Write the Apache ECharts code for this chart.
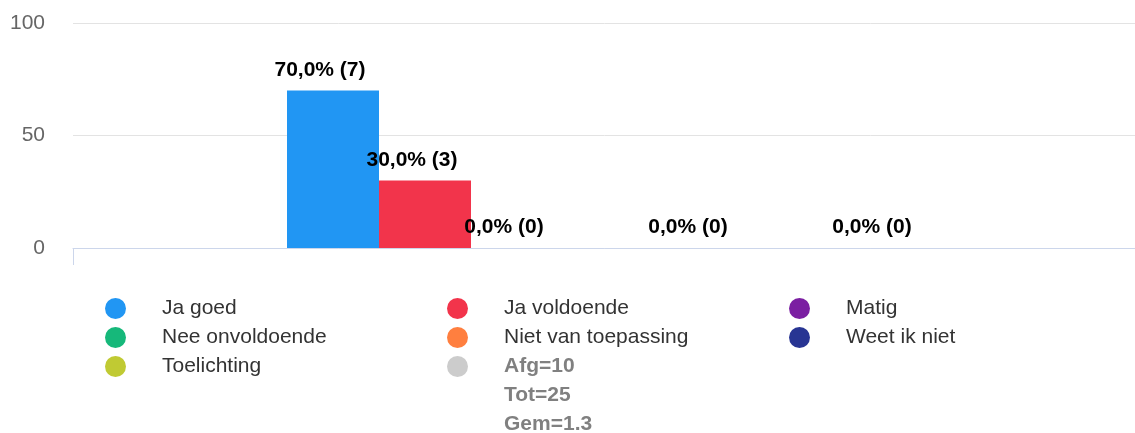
<!DOCTYPE html>
<html>
<head>
<meta charset="utf-8">
<script src="https://cdn.jsdelivr.net/npm/echarts@6/dist/echarts.min.js"></script>
<style>
  html, body { margin: 0; padding: 0; background: #fff; }
  #chart { width: 1135px; height: 433px; }
</style>
</head>
<body>
<div id="chart"></div>
<script>
const categories = ['']
const seriesNames = ['Ja goed', 'Ja voldoende', 'Matig', 'Nee onvoldoende', 'Niet van toepassing', 'Weet ik niet', 'Toelichting']
const percentages = [70, 30, 0, 0, 0, 0, 0]
const counts = [7, 3, 0, 0, 0, 0, 0]
const colors = ['#2196f3', '#f2344b', '#7b1fa2', '#16b87a', '#ff7f3f', '#283593', '#c0ca33']
const showLabel = [true, true, true, false, true, false, true]
const summaryName = 'Afg=10\nTot=25\nGem=1.3'
const yTicks = {min: 0, max: 100, interval: 50}

const font = "'Liberation Sans', Arial, sans-serif"

let series = []
for (let i = 0; i < seriesNames.length; i++) {
  series.push({
    name: seriesNames[i],
    type: 'bar',
    barWidth: 92,
    barGap: '0%',
    itemStyle: {color: colors[i]},
    label: {
      show: showLabel[i],
      position: 'top',
      distance: 10,
      offset: [-13, 0],
      color: '#000',
      fontWeight: 'bold',
      fontSize: 21,
      fontFamily: font,
      formatter: () => percentages[i].toFixed(1).replace('.', ',') + '% (' + counts[i] + ')'
    },
    data: [percentages[i]]
  })
}
// grey summary entry, only shown in the legend
series.push({
  name: summaryName,
  type: 'line',
  itemStyle: {color: '#cccccc'},
  data: []
})

// 3 columns, filled row by row
const legendOrder = ['Ja goed', 'Ja voldoende', 'Matig', 'Nee onvoldoende', 'Niet van toepassing', 'Weet ik niet', 'Toelichting', summaryName]
let legendData = legendOrder.map(n => {
  if (n === summaryName) {
    return {name: n, textStyle: {color: '#808080', fontWeight: 'bold', fontSize: 21, lineHeight: 29}}
  }
  return {name: n}
})

const option = {
  animation: false,
  textStyle: {fontFamily: font},
  grid: {left: 73, right: -10, top: 23, bottom: 185, outerBoundsMode: 'none', containLabel: false},
  legend: {
    left: 105,
    top: 294,
    width: 1030,
    padding: 0,
    icon: 'circle',
    itemWidth: 21,
    itemHeight: 21,
    itemGap: 8,
    // summary text hangs down from the icon row
    formatter: name => name === summaryName ? '\n\n' + name : name,
    textStyle: {
      color: '#333',
      fontSize: 21,
      fontFamily: font,
      lineHeight: 21,
      width: 277,
      padding: [0, 0, 0, 31]
    },
    data: legendData
  },
  xAxis: {
    type: 'category',
    data: categories,
    axisLine: {lineStyle: {color: '#ccd6eb', width: 1}},
    axisTick: {show: true, length: 17, lineStyle: {color: '#ccd6eb'}},
    axisLabel: {show: false},
    splitLine: {show: false}
  },
  yAxis: {
    type: 'value',
    min: yTicks.min,
    max: yTicks.max,
    interval: yTicks.interval,
    axisLine: {show: false},
    axisTick: {show: false},
    axisLabel: {color: '#666', fontSize: 21, margin: 28, fontFamily: font},
    splitLine: {lineStyle: {color: '#e3e3e3', width: 1}}
  },
  series: series
}

let c = echarts.init(document.getElementById('chart'))
c.setOption(option)
</script>
</body>
</html>
